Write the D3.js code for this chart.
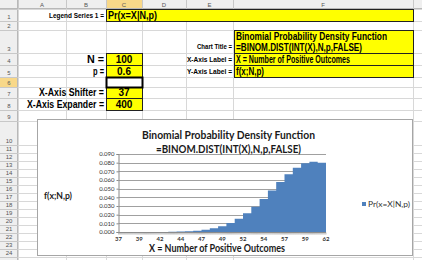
<!DOCTYPE html>
<html><head><meta charset="utf-8">
<script src="https://cdn.jsdelivr.net/npm/d3@7"></script>
<style>html,body{margin:0;padding:0;background:#fff;overflow:hidden}</style>
</head><body><svg id="c" width="422" height="260"></svg>
<script>
// ---------- data ----------
const categories = [37,38,39,40,41,42,43,44,45,46,47,48,49,50,51,52,53,54,55,56,57,58,59,60,61,62];
const probabilities = [0.0000018,0.0000045,0.0000107,0.0000245,0.0000536,0.000113,0.000229,0.000444,0.000829,0.00149,
  0.00256,0.00425,0.00676,0.01034,0.0152,0.0215,0.0292,0.0381,0.0478,0.0576,0.0667,0.0742,0.0792,0.0812,0.0799,0.0754];
const yTickValues = [0,0.01,0.02,0.03,0.04,0.05,0.06,0.07,0.08,0.09];
const xTickLabels = [37,39,42,44,47,49,52,54,57,59,62];
const chartTitle = ["Binomial Probability Density Function", "=BINOM.DIST(INT(X),N,p,FALSE)"];
const xAxisLabel = "X = Number of Positive Outcomes";
const yAxisLabel = "f(x;N,p)";
const legendLabel = "Pr(x=X|N,p)";
const paramLabels = ["N =", "p =", "X-Axis Shifter =", "X-Axis Expander ="];
const paramValues = ["100", "0.6", "37", "400"];
const labelNames = ["Chart Title =", "X-Axis Label =", "Y-Axis Label ="];
const colLetters = ["A","B","C","D","E","F",""];

// ---------- sheet layout ----------
const svg = d3.select("#c");
const colEdges = [0,18,66,106,142,186,233,413,422];
const rowEdges = [0,9,21,30,53,65,77,87,98,110,121,145,153,161,169,177,185,193,201,209,217,225,233,241,249,257,265];
const SHEET_FONT = "'Liberation Sans', Arial, sans-serif";
const CHART_FONT = "Lato, 'Open Sans', sans-serif";

function txt(g, x, y, s, o) {
  const t = g.append("text").attr("x", x).attr("y", y).text(s)
    .attr("font-family", o.family || SHEET_FONT)
    .attr("font-size", o.size || 9)
    .attr("font-weight", o.weight || "bold")
    .attr("fill", o.fill || "#000")
    .attr("text-anchor", o.anchor || "start");
  if (o.width) t.attr("textLength", o.width).attr("lengthAdjust", "spacingAndGlyphs");
  return t;
}

svg.append("rect").attr("width", 422).attr("height", 260).attr("fill", "#fff");
const grid = svg.append("g");
grid.selectAll("line.v").data(colEdges.slice(1)).join("line")
  .attr("x1", d => d + 0.5).attr("x2", d => d + 0.5).attr("y1", 9).attr("y2", 260)
  .attr("stroke", "#D8D8D8");
grid.selectAll("line.h").data(rowEdges.slice(1)).join("line")
  .attr("x1", 18).attr("x2", 422).attr("y1", d => d + 0.5).attr("y2", d => d + 0.5)
  .attr("stroke", "#D8D8D8");
// headers
svg.append("rect").attr("x", 0).attr("y", 0).attr("width", 422).attr("height", 9).attr("fill", "#EFEFEF");
svg.append("rect").attr("x", 0).attr("y", 0).attr("width", 18).attr("height", 260).attr("fill", "#EFEFEF");
svg.append("rect").attr("x", colEdges[3]).attr("y", 0).attr("width", colEdges[4]-colEdges[3]).attr("height", 9).attr("fill", "#F8D889");
svg.append("rect").attr("x", 0).attr("y", rowEdges[6]).attr("width", 18).attr("height", rowEdges[7]-rowEdges[6]).attr("fill", "#F8D889");
svg.append("line").attr("x1", 0).attr("x2", 422).attr("y1", 8.5).attr("y2", 8.5).attr("stroke", "#B8B8B8");
svg.append("line").attr("x1", 17.5).attr("x2", 17.5).attr("y1", 0).attr("y2", 260).attr("stroke", "#B8B8B8");
colEdges.slice(1).forEach(x => svg.append("line").attr("x1", x+0.5).attr("x2", x+0.5).attr("y1", 0).attr("y2", 9).attr("stroke", "#C8C8C8"));
rowEdges.slice(1).forEach(y => svg.append("line").attr("x1", 0).attr("x2", 18).attr("y1", y+0.5).attr("y2", y+0.5).attr("stroke", "#C8C8C8"));
colLetters.forEach((l, i) => txt(svg, (colEdges[i+1]+colEdges[i+2])/2, 7, l, {size: 6, weight: "normal", fill: "#555", anchor: "middle"}));
rowEdges.slice(1, -2).forEach((y, i) => txt(svg, 9, rowEdges[i+2]-2, String(i+1), {size: 6, weight: "normal", fill: "#555", anchor: "middle"}));

// yellow cells
function cell(x0, y0, x1, y1) {
  svg.append("rect").attr("x", x0+0.5).attr("y", y0+0.5).attr("width", x1-x0).attr("height", y1-y0)
    .attr("fill", "#FFFF00").attr("stroke", "#222").attr("stroke-width", 1);
}
cell(106, 9, 413, 21);
txt(svg, 104, 18, "Legend Series 1 =", {size: 7.5, anchor: "end", width: 55});
txt(svg, 108, 19, legendLabel, {size: 11, width: 49});

const paramRows = [[53,65],[65,77],[87,98],[98,110]];
const paramWidths = [17, 11, 65, 77];
paramRows.forEach((r, i) => {
  cell(106, r[0], 142, r[1]);
  txt(svg, 104, r[1]-2.5, paramLabels[i], {size: 10, anchor: "end", width: paramWidths[i]});
  txt(svg, 124, r[1]-2.5, paramValues[i], {size: 10, anchor: "middle"});
});
svg.append("rect").attr("x", 106.5).attr("y", 77.5).attr("width", 36).attr("height", 10)
  .attr("fill", "none").attr("stroke", "#000").attr("stroke-width", 2);

cell(234, 30, 413, 53);
cell(234, 53, 413, 65);
cell(234, 65, 413, 77);
txt(svg, 236, 39.5, chartTitle[0], {size: 10, width: 151});
txt(svg, 236, 51, chartTitle[1], {size: 10, width: 126});
txt(svg, 236, 63, xAxisLabel, {size: 10, width: 114});
txt(svg, 236, 75, yAxisLabel, {size: 10, width: 28});
[[48.5,35],[62,45],[74,45]].forEach((p, i) => txt(svg, 232, p[0], labelNames[i], {size: 7, anchor: "end", width: p[1]}));

// ---------- chart ----------
const ch = svg.append("g");
ch.append("rect").attr("x", 37.5).attr("y", 119.5).attr("width", 375).attr("height", 136)
  .attr("fill", "#fff").attr("stroke", "#A6A6A6");

const x = d3.scaleLinear().domain([categories[0], categories[categories.length-1]]).range([118.5, 326]);
const y = d3.scaleLinear().domain([0, 0.09]).range([232, 154]);

ch.append("g").selectAll("line").data(yTickValues.slice(1)).join("line")
  .attr("x1", x.range()[0]).attr("x2", x.range()[1])
  .attr("y1", d => Math.round(y(d)) + 0.5).attr("y2", d => Math.round(y(d)) + 0.5)
  .attr("stroke", "#A0A0A0");

const pts = categories.map((c, i) => [c, probabilities[i]]);
ch.append("path").datum(pts)
  .attr("d", d3.area().x(d => x(d[0])).y0(y(0)).y1(d => y(d[1])).curve(d3.curveStepAfter))
  .attr("fill", "#4F81BD");

const yAxis = d3.axisLeft(y).tickValues(yTickValues).tickFormat(d3.format(".3f")).tickSize(2).tickPadding(2);
const ya = ch.append("g").attr("transform", `translate(${x.range()[0]},0)`).call(yAxis);
ya.select(".domain").attr("stroke", "#888");
ya.selectAll(".tick line").attr("stroke", "#888");
ya.selectAll(".tick text").attr("font-family", CHART_FONT).attr("font-size", 6).attr("fill", "#333");

const minorTicks = d3.range(0, 201).map(i => categories[0] + i * (categories[categories.length-1]-categories[0]) / 200);
const xa = ch.append("g").attr("transform", `translate(0,${y(0)})`);
xa.append("line").attr("x1", x.range()[0]).attr("x2", x.range()[1]).attr("y1", 0.5).attr("y2", 0.5).attr("stroke", "#888");
xa.selectAll("line.mt").data(minorTicks).join("line")
  .attr("x1", d => x(d)).attr("x2", d => x(d)).attr("y1", 0.5).attr("y2", 2.5)
  .attr("stroke", "#9A9A9A").attr("stroke-width", 0.6);
const step = (categories[categories.length-1]-categories[0]) / (xTickLabels.length-1);
xTickLabels.forEach((lab, i) => {
  txt(xa, x(categories[0] + i*step), 8.5, String(lab), {family: CHART_FONT, size: 6, weight: "bold", fill: "#333", anchor: "middle"});
});

txt(ch, 228.5, 138.5, chartTitle[0], {family: CHART_FONT, size: 12, fill: "#1a1a1a", anchor: "middle", width: 173});
txt(ch, 228.5, 152.5, chartTitle[1], {family: CHART_FONT, size: 12, fill: "#1a1a1a", anchor: "middle", width: 145});
txt(ch, 217, 252, xAxisLabel, {family: CHART_FONT, size: 11, fill: "#1a1a1a", anchor: "middle", width: 136});
txt(ch, 44, 199, yAxisLabel, {family: CHART_FONT, size: 9, fill: "#1a1a1a", width: 28});

ch.append("rect").attr("x", 362).attr("y", 202).attr("width", 4).attr("height", 4).attr("fill", "#4F81BD");
txt(ch, 368, 207, legendLabel, {family: CHART_FONT, size: 7, weight: "normal", fill: "#333", width: 42});
</script></body></html>
